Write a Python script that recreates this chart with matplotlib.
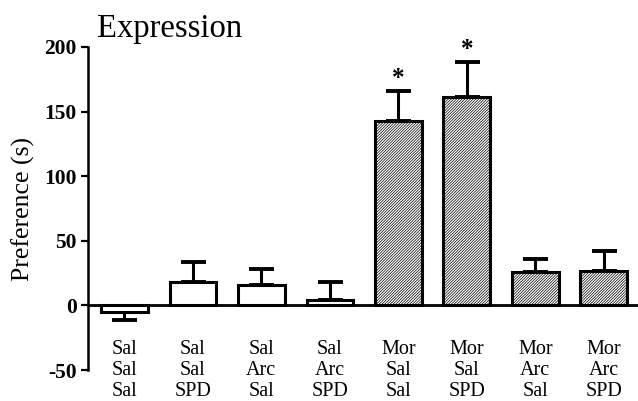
import matplotlib.pyplot as plt
import numpy as np

plt.rcParams['font.family'] = ['Liberation Serif', 'DejaVu Serif']
plt.rcParams['hatch.linewidth'] = 0.5

groups = ['Sal\nSal\nSal', 'Sal\nSal\nSPD', 'Sal\nArc\nSal', 'Sal\nArc\nSPD',
          'Mor\nSal\nSal', 'Mor\nSal\nSPD', 'Mor\nArc\nSal', 'Mor\nArc\nSPD']
means = [-5, 18, 16, 4.5, 143, 161, 26, 27]
sems = [6, 16, 12.5, 13.5, 23, 27, 10, 15]
morphine = [False, False, False, False, True, True, True, True]
significant = [False, False, False, False, True, True, False, False]
yticks = [-50, 0, 50, 100, 150, 200]

fig = plt.figure(figsize=(6.38, 4.01), dpi=100)
ax = fig.add_axes([0.138, 0.077, 0.862, 0.806])

x = np.arange(len(means))
for i in range(len(means)):
    ax.bar(x[i], means[i], width=0.68, facecolor='white', edgecolor='black',
           linewidth=2.2, hatch='////////////' if morphine[i] else None, zorder=2)
    err_lo = 0
    err_hi = sems[i]
    if means[i] < 0:
        err_lo, err_hi = sems[i], 0
    ax.errorbar(x[i], means[i], yerr=[[err_lo], [err_hi]], fmt='none',
                ecolor='black', elinewidth=2.2, capsize=9, capthick=2.8, zorder=1)
    if significant[i]:
        ax.text(x[i], means[i] + sems[i] + 1, '*', ha='center', va='bottom',
                fontsize=18, fontweight='bold')
    ax.text(x[i], -27, groups[i], ha='center', va='top', fontsize=14.5,
            linespacing=1.13)

ax.axhline(0, color='black', linewidth=2, zorder=3)
ax.set_xlim(-0.53, 7.5)
ax.set_ylim(-50, 200)
ax.set_yticks(yticks)
ax.set_yticklabels([str(t) for t in yticks], fontweight='bold', fontsize=15.5)
ax.set_xticks([])
ax.tick_params(axis='y', length=5, width=1.6, pad=3)
for side in ['top', 'right', 'bottom']:
    ax.spines[side].set_visible(False)
ax.spines['left'].set_linewidth(1.8)
ax.set_ylabel('Preference (s)', fontsize=18.5)
ax.yaxis.set_label_coords(-0.096, 0.5)

fig.text(0.152, 0.908, 'Expression', fontsize=23.5, va='baseline', ha='left')

fig.savefig('out.png', dpi=100)
